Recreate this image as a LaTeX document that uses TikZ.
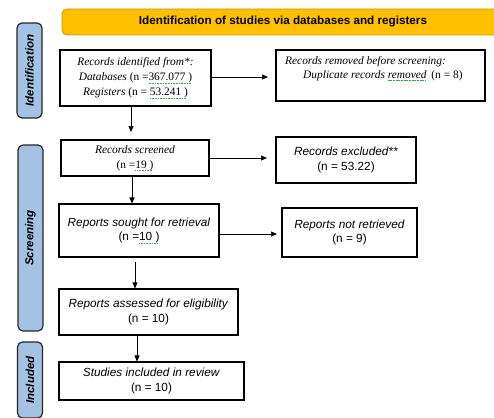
\documentclass[tikz,border=0pt]{standalone}
\usepackage{fontspec}
\setmainfont{Liberation Serif}
\newfontfamily\arialfont{Liberation Sans}
\usetikzlibrary{arrows.meta}
\definecolor{phaseblue}{HTML}{A4C2E4}
\definecolor{headgold}{HTML}{FFC000}
\definecolor{headedge}{HTML}{C89A10}
\definecolor{spellgreen}{HTML}{3FA34D}
% dotted spell-check underline
\newcommand\spellmark[1]{\setbox0=\hbox{#1}\rlap{\color{spellgreen}\raisebox{-2.6pt}{\hbox to \wd0{\leaders\hbox to 1.6pt{\vrule width 1.1pt height 0.5pt\hss}\hfill}}}#1}
\begin{document}
\begin{tikzpicture}[x=1pt,y=-1pt,
    box/.style={draw, line width=1.1pt, align=center, inner sep=2pt, font=\fontsize{11.4}{15}\selectfont},
    sbox/.style={box, font=\arialfont\fontsize{11.8}{14.5}\selectfont},
    phase/.style={draw=black!85, line width=1.2pt, fill=phaseblue, rounded corners=5pt,
        minimum height=25pt, rotate=90, font=\arialfont\bfseries\itshape\fontsize{11.5}{12}\selectfont},
    arr/.style={-{Triangle[length=6pt,width=5pt]}, line width=0.7pt}]
    \useasboundingbox (0,0) rectangle (494,417);

    % Header bar
    \draw[headedge, fill=headgold, line width=0.9pt, rounded corners=5pt] (62,9) rectangle (520,35);
    \node[font=\arialfont\bfseries\fontsize{11.7}{12}\selectfont] (header) at (283,22)
        {Identification of studies via databases and registers};

    % Phase labels
    \node[phase, minimum width=95pt] (lblident) at (29.5,70.5) {Identification};
    \node[phase, minimum width=186pt] (lblscreen) at (30.5,238) {Screening};
    \node[phase, minimum width=76pt] (lblincl) at (30,380) {Included};

    % Identification
    \node[box, minimum width=151pt, minimum height=56pt] (ident) at (135.5,78)
        {\textit{Records identified from*:}\\
         \textit{Databases} (n =\spellmark{367.077 )}\\
         \textit{Registers} (n = \spellmark{53.241 )}};
    \node[box, minimum width=209pt, minimum height=51pt] (removed) at (380.5,75.5) {};
    \node[font=\fontsize{11.4}{14}\selectfont, align=left, anchor=north west, inner sep=0pt] (removedtxt) at (285,56)
        {\textit{Records removed before screening:}\\
         \hspace{18pt}\textit{Duplicate records \spellmark{removed}}\, (n = 8)};

    % Screening
    \node[box, minimum width=148pt, minimum height=36pt] (screened) at (135,158)
        {\textit{Records screened}\\(n =\spellmark{19 )}};
    \node[sbox, minimum width=140pt, minimum height=46pt] (excluded) at (346,160)
        {\textit{Records excluded**}\\(n = 53.22)};
    \node[sbox, minimum width=160pt, minimum height=53pt] (sought) at (139,230.5)
        {\textit{Reports sought for retrieval}\\(n =\spellmark{10 )}};
    \node[sbox, minimum width=135pt, minimum height=49pt] (notret) at (349.5,232.5)
        {\textit{Reports not retrieved}\\(n = 9)};
    \node[sbox, minimum width=179pt, minimum height=46pt] (assessed) at (148.5,312)
        {\textit{Reports assessed for eligibility}\\(n = 10)};

    % Included
    \node[sbox, minimum width=185pt, minimum height=38pt] (included) at (151.5,381)
        {\textit{Studies included in review}\\(n = 10)};

    % Arrows
    \draw[arr] (ident.east |- 0,77) -- (268,77);
    \draw[arr] (ident.south -| 131,0) -- (131,132);
    \draw[arr] (screened.east |- 0,158) -- (267,158);
    \draw[arr] (screened.south -| 132,0) -- (sought.north -| 132,0);
    \draw[arr] (sought.east |- 0,234) -- (277,234);
    \draw[arr] (135,262) -- (assessed.north -| 135,0);
    \draw[arr] (assessed.south -| 137,0) -- (included.north -| 137,0);
\end{tikzpicture}
\end{document}
